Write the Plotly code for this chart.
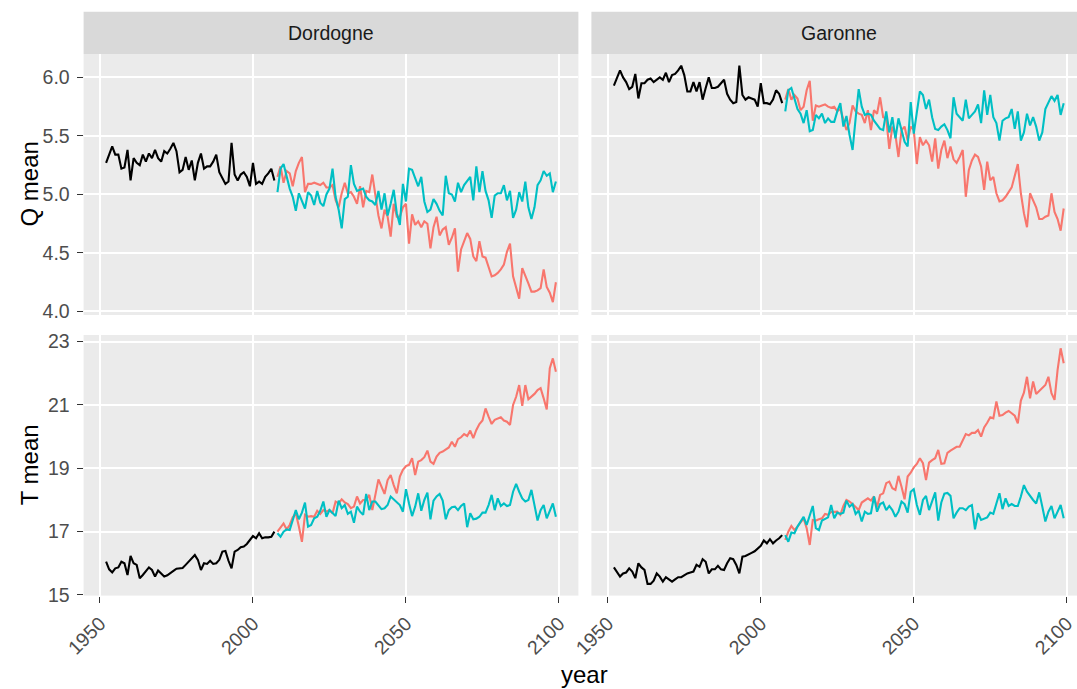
import plotly.graph_objects as go

W, H = 1077, 689

hist_years = list(range(1952, 2008))
proj_years = list(range(2008, 2100))
x_ticks = [1950, 2000, 2050, 2100]
q_ticks = [4.0, 4.5, 5.0, 5.5, 6.0]
q_ticktext = ["4.0", "4.5", "5.0", "5.5", "6.0"]
t_ticks = [15, 17, 19, 21, 23]
t_ticktext = ["15", "17", "19", "21", "23"]
rivers = ["Dordogne", "Garonne"]

# ---- Q mean, Dordogne ----
q_dor_hist = [5.27, 5.35, 5.41, 5.34, 5.34, 5.22, 5.23, 5.38, 5.12, 5.31,
              5.27, 5.25, 5.34, 5.28, 5.35, 5.31, 5.38, 5.31, 5.28, 5.37,
              5.35, 5.39, 5.44, 5.37, 5.19, 5.21, 5.32, 5.21, 5.29, 5.12,
              5.27, 5.35, 5.22, 5.24, 5.24, 5.28, 5.34, 5.19, 5.14, 5.09,
              5.11, 5.44, 5.17, 5.12, 5.17, 5.19, 5.15, 5.07, 5.27, 5.09,
              5.11, 5.09, 5.15, 5.18, 5.22, 5.12]
q_dor_rcp85 = [5.15, 5.24, 5.10, 5.20, 5.18, 5.07, 5.20, 5.27, 5.32, 5.02,
               5.09, 5.09, 5.10, 5.09, 5.08, 5.10, 5.06, 5.06, 5.08, 4.95,
               4.89, 5.01, 5.10, 5.01, 5.02, 4.98, 4.92, 5.07, 4.89, 5.03,
               5.02, 5.17, 4.98, 4.82, 4.71, 4.87, 4.81, 4.64, 4.92, 4.81,
               4.81, 4.89, 4.92, 4.58, 4.83, 4.74, 4.77, 4.72, 4.77, 4.75,
               4.54, 4.72, 4.81, 4.65, 4.70, 4.72, 4.57, 4.63, 4.71, 4.34,
               4.53, 4.61, 4.67, 4.62, 4.47, 4.43, 4.60, 4.47, 4.46, 4.38,
               4.30, 4.31, 4.33, 4.36, 4.40, 4.51, 4.58, 4.30, 4.20, 4.11,
               4.37, 4.31, 4.24, 4.17, 4.17, 4.18, 4.20, 4.36, 4.21, 4.16,
               4.08, 4.25]
q_dor_rcp26 = [5.02, 5.22, 5.26, 5.16, 5.05, 4.98, 4.86, 5.01, 4.95, 4.88,
               5.02, 4.99, 4.91, 5.03, 4.93, 4.90, 5.00, 5.05, 5.22, 4.98,
               4.87, 4.71, 4.96, 4.98, 5.25, 5.09, 5.03, 5.04, 5.05, 4.98,
               4.95, 4.94, 4.91, 5.03, 4.87, 5.01, 4.82, 4.92, 5.04, 4.84,
               4.74, 5.09, 4.94, 5.22, 5.21, 5.14, 5.07, 5.15, 4.94, 4.85,
               4.87, 4.96, 4.92, 4.86, 4.82, 5.16, 5.01, 5.00, 4.94, 5.10,
               5.02, 5.08, 5.12, 5.15, 4.95, 5.24, 5.02, 5.20, 5.03, 4.95,
               4.80, 4.99, 5.01, 5.01, 5.08, 4.95, 5.03, 4.80, 4.87, 5.02,
               4.94, 5.11, 4.89, 4.79, 4.89, 5.08, 5.12, 5.20, 5.16, 5.18,
               5.02, 5.11]

# ---- Q mean, Garonne ----
q_gar_hist = [5.93, 6.00, 6.06, 6.00, 5.96, 5.90, 5.92, 6.03, 5.82, 5.95,
              5.95, 5.98, 5.99, 5.96, 5.98, 6.00, 5.98, 6.04, 5.96, 6.02,
              6.03, 6.06, 6.10, 6.02, 5.88, 5.88, 5.96, 5.88, 5.96, 5.81,
              5.91, 6.00, 5.91, 5.91, 5.92, 5.95, 5.98, 5.86, 5.81, 5.78,
              5.79, 6.10, 5.85, 5.81, 5.83, 5.82, 5.81, 5.75, 5.95, 5.78,
              5.78, 5.77, 5.81, 5.89, 5.86, 5.78]
q_gar_rcp85 = [5.81, 5.90, 5.81, 5.85, 5.82, 5.72, 5.75, 5.89, 5.97, 5.63,
               5.76, 5.75, 5.76, 5.77, 5.75, 5.74, 5.75, 5.71, 5.73, 5.65,
               5.55, 5.61, 5.76, 5.71, 5.69, 5.68, 5.61, 5.72, 5.55, 5.72,
               5.69, 5.83, 5.66, 5.65, 5.39, 5.58, 5.51, 5.32, 5.55, 5.58,
               5.46, 5.58, 5.55, 5.26, 5.49, 5.42, 5.46, 5.42, 5.28, 5.48,
               5.22, 5.38, 5.46, 5.31, 5.41, 5.30, 5.27, 5.32, 5.38, 4.98,
               5.21, 5.29, 5.34, 5.32, 5.24, 5.04, 5.28, 5.12, 5.15, 5.01,
               4.94, 4.95, 4.98, 5.02, 5.06, 5.16, 5.26, 5.01, 4.84, 4.72,
               5.01, 4.95, 4.89, 4.79, 4.79, 4.81, 4.82, 5.01, 4.85, 4.79,
               4.69, 4.88]
q_gar_rcp26 = [5.71, 5.89, 5.91, 5.81, 5.73, 5.69, 5.61, 5.72, 5.54, 5.55,
               5.68, 5.65, 5.69, 5.61, 5.65, 5.62, 5.62, 5.71, 5.78, 5.58,
               5.67, 5.51, 5.38, 5.65, 5.90, 5.75, 5.68, 5.69, 5.68, 5.63,
               5.59, 5.56, 5.55, 5.71, 5.53, 5.66, 5.48, 5.65, 5.55, 5.45,
               5.41, 5.79, 5.52, 5.71, 5.88, 5.85, 5.73, 5.81, 5.66, 5.56,
               5.55, 5.58, 5.60, 5.55, 5.48, 5.83, 5.69, 5.66, 5.63, 5.81,
               5.65, 5.68, 5.71, 5.77, 5.61, 5.89, 5.68, 5.85, 5.66, 5.61,
               5.46, 5.63, 5.65, 5.66, 5.73, 5.56, 5.71, 5.46, 5.53, 5.69,
               5.59, 5.66, 5.58, 5.46, 5.53, 5.73, 5.79, 5.84, 5.80, 5.85,
               5.68, 5.78]

# ---- T mean, Dordogne ----
t_dor_hist = [16.05, 15.81, 15.71, 15.84, 15.87, 16.05, 16.00, 15.63, 16.23, 16.00,
              15.95, 15.53, 15.63, 15.77, 15.87, 15.79, 15.58, 15.77, 15.68, 15.58,
              15.62, 15.68, 15.76, 15.83, 15.84, 15.85, 15.95, 16.05, 16.16, 16.26,
              16.11, 15.79, 16.00, 15.98, 16.08, 15.98, 16.00, 16.11, 16.37, 16.39,
              16.08, 15.84, 16.37, 16.42, 16.51, 16.53, 16.61, 16.72, 16.86, 16.79,
              16.95, 16.79, 16.82, 16.82, 16.84, 17.00]
t_dor_rcp85 = [17.00, 17.14, 17.26, 17.07, 17.21, 17.45, 17.58, 17.16, 16.68, 17.53,
               17.47, 17.49, 17.47, 17.66, 17.56, 17.68, 17.63, 17.68, 17.58, 17.95,
               17.89, 18.02, 17.92, 17.87, 17.74, 17.79, 18.11, 17.89, 18.00, 18.00,
               18.16, 17.68, 18.16, 18.65, 18.42, 18.19, 18.63, 18.79, 18.47, 18.21,
               18.74, 18.95, 19.07, 19.11, 19.32, 18.79, 19.21, 19.26, 19.35, 19.56,
               19.21, 19.14, 19.37, 19.49, 19.53, 19.60, 19.66, 19.84, 19.68, 19.92,
               19.98, 20.08, 20.02, 20.19, 19.95, 20.21, 20.40, 20.51, 20.89, 20.63,
               20.40, 20.53, 20.58, 20.61, 20.51, 20.47, 20.37, 21.00, 21.26, 21.63,
               20.97, 21.63, 21.18, 21.26, 21.35, 21.47, 21.53, 21.21, 20.86, 22.16,
               22.47, 22.05]
t_dor_rcp26 = [16.95, 16.84, 17.00, 17.07, 17.05, 17.37, 17.68, 17.39, 17.60, 17.92,
               17.16, 17.21, 17.42, 17.47, 17.66, 17.95, 17.47, 17.68, 17.58, 17.49,
               17.98, 17.74, 17.84, 17.56, 17.63, 17.28, 17.79, 17.63, 17.53, 18.19,
               17.68, 17.95, 17.95, 17.81, 17.71, 17.74, 17.84, 18.11, 18.02, 17.92,
               17.84, 17.63, 18.34, 17.89, 17.49, 17.79, 18.21, 17.66, 18.00, 18.23,
               17.39, 17.98, 18.11, 18.19, 17.98, 17.39, 17.68, 17.77, 17.79, 17.68,
               17.81, 17.89, 17.14, 17.58, 17.39, 17.41, 17.47, 17.60, 17.60, 17.84,
               18.16, 17.68, 18.05, 17.81, 17.89, 17.81, 17.84, 18.26, 18.51, 18.26,
               18.05, 17.95, 18.00, 18.32, 17.84, 17.35, 17.68, 17.84, 17.42, 17.63,
               17.89, 17.47]

# ---- T mean, Garonne ----
t_gar_hist = [15.87, 15.74, 15.58, 15.68, 15.71, 15.84, 15.74, 15.53, 16.00, 15.87,
              15.79, 15.35, 15.35, 15.45, 15.68, 15.58, 15.42, 15.56, 15.49, 15.42,
              15.49, 15.56, 15.56, 15.63, 15.68, 15.71, 15.74, 15.95, 15.89, 16.13,
              16.05, 15.68, 15.81, 15.81, 15.92, 15.81, 15.79, 16.00, 16.16, 16.13,
              15.95, 15.68, 16.21, 16.23, 16.29, 16.33, 16.38, 16.47, 16.55, 16.72,
              16.63, 16.76, 16.63, 16.72, 16.79, 16.89]
t_gar_rcp85 = [16.74, 17.00, 17.18, 17.05, 17.16, 17.28, 17.42, 17.11, 16.58, 17.37,
               17.35, 17.39, 17.42, 17.56, 17.53, 17.62, 17.63, 17.63, 17.53, 17.81,
               18.00, 17.95, 17.87, 17.79, 17.68, 17.92, 17.98, 18.05, 17.98, 18.11,
               17.77, 18.16, 18.21, 18.53, 18.58, 18.37, 18.32, 18.76, 18.42, 18.02,
               18.74, 18.86, 19.03, 19.14, 19.32, 19.16, 18.63, 19.18, 19.26, 19.32,
               19.58, 19.14, 19.16, 19.49, 19.56, 19.62, 19.68, 19.68, 19.87, 20.08,
               20.04, 20.12, 20.12, 20.21, 20.00, 20.29, 20.44, 20.61, 20.58, 21.11,
               20.66, 20.68, 20.76, 20.81, 20.74, 20.66, 20.42, 21.14, 21.39, 21.89,
               21.21, 21.74, 21.35, 21.45, 21.53, 21.63, 21.89, 21.37, 21.16, 22.11,
               22.79, 22.32]
t_gar_rcp26 = [16.89, 16.68, 16.97, 16.95, 17.16, 17.32, 17.47, 17.21, 17.53, 17.81,
               17.11, 17.05, 17.35, 17.41, 17.45, 17.84, 17.42, 17.60, 17.56, 17.60,
               17.98, 17.79, 17.87, 17.56, 17.66, 17.32, 17.63, 17.56, 17.58, 18.11,
               17.63, 17.87, 17.92, 17.68, 17.81, 17.68, 17.47, 17.63, 17.95, 17.87,
               17.60, 18.26, 18.34, 17.84, 17.53, 18.00, 18.13, 17.68, 18.00, 18.24,
               17.35, 17.92, 18.20, 18.22, 18.13, 17.42, 17.60, 17.74, 17.74, 17.68,
               17.79, 17.84, 17.07, 17.58, 17.37, 17.41, 17.45, 17.60, 17.56, 17.89,
               18.21, 17.71, 18.05, 17.81, 17.87, 17.81, 17.81, 18.11, 18.47, 18.26,
               18.11, 18.00, 17.89, 18.24, 17.79, 17.32, 17.63, 17.81, 17.42, 17.63,
               17.84, 17.42]

# ---- colours / styling ----
COL_HIST = "#000000"
COL_85 = "#F8766D"
COL_26 = "#00BFC4"
PANEL_BG = "#EBEBEB"
STRIP_BG = "#D9D9D9"
FONT = "Liberation Sans, Arial, Helvetica, sans-serif"

# pixel layout (reference image coordinates)
LX0, LX1 = 83.6, 578.4
RX0, RX1 = 591.4, 1077.0
TOP_Y0, TOP_Y1 = 54.0, 315.0
BOT_Y0, BOT_Y1 = 335.0, 595.6
STRIP_Y0 = 11.7
PX_PER_YEAR = (LX1 - LX0) / (2106.35 - 1944.65)
X_RANGE_L = [1944.65, 2106.35]
X_RANGE_R = [1944.65, 1944.65 + (RX1 - RX0) / PX_PER_YEAR]


def fx(p):
    return p / W


def fy(p):
    return 1 - p / H


fig = go.Figure()

panels = [
    ("x", "y", q_dor_hist, q_dor_rcp85, q_dor_rcp26),
    ("x2", "y2", q_gar_hist, q_gar_rcp85, q_gar_rcp26),
    ("x3", "y3", t_dor_hist, t_dor_rcp85, t_dor_rcp26),
    ("x4", "y4", t_gar_hist, t_gar_rcp85, t_gar_rcp26),
]
for xa, ya, hist, r85, r26 in panels:
    fig.add_trace(go.Scatter(x=hist_years, y=hist, mode="lines", xaxis=xa, yaxis=ya,
                             line=dict(color=COL_HIST, width=2.1), showlegend=False,
                             hoverinfo="skip"))
    fig.add_trace(go.Scatter(x=proj_years, y=r85, mode="lines", xaxis=xa, yaxis=ya,
                             line=dict(color=COL_85, width=2.1), showlegend=False,
                             hoverinfo="skip"))
    fig.add_trace(go.Scatter(x=proj_years, y=r26, mode="lines", xaxis=xa, yaxis=ya,
                             line=dict(color=COL_26, width=2.1), showlegend=False,
                             hoverinfo="skip"))

grid = dict(showgrid=True, gridcolor="white", gridwidth=1.5, zeroline=False,
            showline=False, automargin=False)
tickfont = dict(family=FONT, size=19.5, color="#4D4D4D")


def xaxis(domain, rng, anchor, bottom):
    d = dict(domain=domain, range=rng, anchor=anchor, tickvals=x_ticks,
             ticktext=[str(v) for v in x_ticks], **grid)
    if bottom:
        d.update(ticks="outside", ticklen=6, tickwidth=1.2, tickcolor="#333333",
                 tickangle=-45, tickfont=tickfont, showticklabels=True,
                 ticklabelstandoff=2)
    else:
        d.update(ticks="", showticklabels=False)
    return d


def yaxis(domain, rng, anchor, vals, text, left):
    d = dict(domain=domain, range=rng, anchor=anchor, tickvals=vals, ticktext=text, **grid)
    if left:
        d.update(ticks="outside", ticklen=6, tickwidth=1.2, tickcolor="#333333",
                 tickfont=tickfont, showticklabels=True, ticklabelstandoff=3)
    else:
        d.update(ticks="", showticklabels=False)
    return d


top_dom = [fy(TOP_Y1), fy(TOP_Y0)]
bot_dom = [fy(BOT_Y1), fy(BOT_Y0)]
left_dom = [fx(LX0), fx(LX1)]
right_dom = [fx(RX0), min(1.0, fx(RX1))]
q_range = [3.97, 6.2]
t_range = [14.98, 23.21]

fig.update_layout(
    width=W, height=H,
    autosize=False,
    margin=dict(l=0, r=0, t=0, b=0, pad=0, autoexpand=False),
    paper_bgcolor="white",
    plot_bgcolor=PANEL_BG,
    font=dict(family=FONT),
    xaxis=xaxis(left_dom, X_RANGE_L, "y", False),
    xaxis2=xaxis(right_dom, X_RANGE_R, "y2", False),
    xaxis3=xaxis(left_dom, X_RANGE_L, "y3", True),
    xaxis4=xaxis(right_dom, X_RANGE_R, "y4", True),
    yaxis=yaxis(top_dom, q_range, "x", q_ticks, q_ticktext, True),
    yaxis2=yaxis(top_dom, q_range, "x2", q_ticks, q_ticktext, False),
    yaxis3=yaxis(bot_dom, t_range, "x3", t_ticks, t_ticktext, True),
    yaxis4=yaxis(bot_dom, t_range, "x4", t_ticks, t_ticktext, False),
)

# facet strips
strip_centers = [(LX0 + LX1) / 2, RX0 + (LX1 - LX0) / 2]
for (x0, x1), name, cx in zip([(LX0, LX1), (RX0, RX1)], rivers, strip_centers):
    fig.add_shape(type="rect", xref="paper", yref="paper",
                  x0=fx(x0), x1=fx(x1), y0=fy(TOP_Y0), y1=fy(STRIP_Y0),
                  fillcolor=STRIP_BG, line=dict(width=0), layer="below")
    fig.add_annotation(text=name, xref="paper", yref="paper", x=fx(cx),
                       y=fy((STRIP_Y0 + TOP_Y0) / 2), showarrow=False,
                       xanchor="center", yanchor="middle",
                       font=dict(family=FONT, size=19.5, color="#1A1A1A"))

# axis titles
title_font = dict(family=FONT, size=24, color="#000000")
fig.add_annotation(text="Q mean", xref="paper", yref="paper", x=fx(29),
                   y=fy((TOP_Y0 + TOP_Y1) / 2), textangle=-90, showarrow=False,
                   xanchor="center", yanchor="middle", font=title_font)
fig.add_annotation(text="T mean", xref="paper", yref="paper", x=fx(29),
                   y=fy((BOT_Y0 + BOT_Y1) / 2), textangle=-90, showarrow=False,
                   xanchor="center", yanchor="middle", font=title_font)
fig.add_annotation(text="year", xref="paper", yref="paper",
                   x=fx((LX0 + RX0 + (LX1 - LX0)) / 2), y=fy(674), showarrow=False,
                   xanchor="center", yanchor="middle", font=title_font)

fig.write_html("out.html", config={"displayModeBar": False},
               post_script="document.body.style.margin='0';document.body.style.overflow='hidden';")
